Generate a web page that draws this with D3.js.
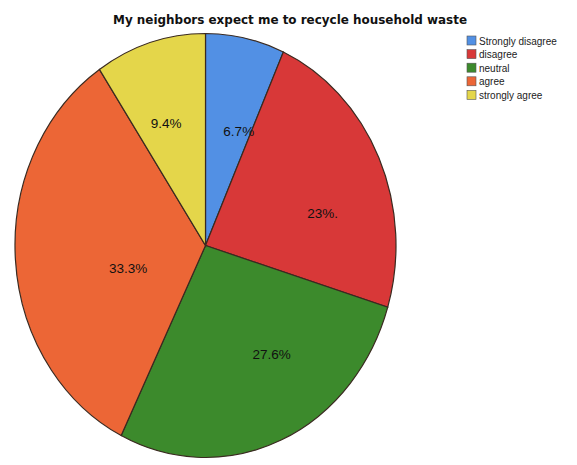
<!DOCTYPE html>
<html><head><meta charset="utf-8">
<script src="https://cdn.jsdelivr.net/npm/d3@7"></script>
<style>body{margin:0;background:#fff}</style>
</head><body>
<script>
const categories = ["Strongly disagree","disagree","neutral","agree","strongly agree"];
const values = [6.7, 23, 27.6, 33.3, 9.4];
const labels = ["6.7%","23%.","27.6%","33.3%","9.4%"];
const colors = ["#5290e4","#d83838","#3c8a2c","#ec6636","#e4d64a"];
// label anchors: angle (deg, clockwise from top) and fraction of radius
const labelAngle = [18, 76, 146, 255, 340.3];
const labelRadius = [0.565, 0.634, 0.62, 0.42, 0.614];

const W = 577, H = 465;
const cx = 205.5, cy = 245.5, rx = 190.5, ry = 212;
const svg = d3.select("body").append("svg").attr("width", W).attr("height", H);

svg.append("text").attr("x", 290).attr("y", 24).attr("text-anchor","middle")
  .attr("font-family","DejaVu Sans").attr("font-weight","bold").attr("font-size",12)
  .attr("textLength", 354).attr("lengthAdjust","spacingAndGlyphs")
  .attr("fill","#111").text("My neighbors expect me to recycle household waste");

const pie = d3.pie().sort(null).value(d => d);
const arcs = pie(values);
const arc = d3.arc().innerRadius(0).outerRadius(ry);
const g = svg.append("g").attr("transform", `translate(${cx},${cy}) scale(${rx/ry},1)`);
g.selectAll("path").data(arcs).join("path")
  .attr("d", arc).attr("fill", (d,i) => colors[i])
  .attr("stroke", "#3a2a20").attr("stroke-width", 1.2)
  .attr("vector-effect","non-scaling-stroke");

const lg = svg.append("g");
lg.selectAll("text.lab").data(arcs).join("text").attr("class","lab")
  .attr("x", (d,i) => cx + rx*labelRadius[i]*Math.sin(labelAngle[i]*Math.PI/180))
  .attr("y", (d,i) => cy - ry*labelRadius[i]*Math.cos(labelAngle[i]*Math.PI/180))
  .attr("dy","0.35em").attr("text-anchor","middle")
  .attr("font-family","Liberation Sans").attr("font-size",13.5).attr("fill","#111")
  .text((d,i) => labels[i]);

const leg = svg.append("g").attr("transform","translate(467,36)");
const items = leg.selectAll("g").data(categories).join("g")
  .attr("transform", (d,i) => `translate(0,${i*13.6})`);
items.append("rect").attr("width",9).attr("height",9)
  .attr("fill",(d,i)=>colors[i]).attr("stroke","#555").attr("stroke-width",0.6);
items.append("text").attr("x",12).attr("y",8.5)
  .attr("font-family","Liberation Sans").attr("font-size",10).attr("fill","#222")
  .text(d=>d);
</script>
</body></html>
